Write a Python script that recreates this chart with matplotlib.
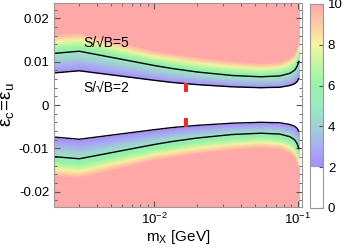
import numpy as np
import matplotlib
matplotlib.use("Agg")
import matplotlib.pyplot as plt
from matplotlib.colors import LinearSegmentedColormap
from matplotlib.ticker import LogLocator, MultipleLocator, NullFormatter

plt.rcParams['font.family'] = ['Liberation Sans', 'DejaVu Sans']

# |epsilon| at which S/sqrt(B) reaches 2, 5 and ~10
mass = [0.002, 0.003, 0.01, 0.0134, 0.02, 0.035, 0.055, 0.075, 0.088, 0.095, 0.099, 0.102]
eps_s2 = [0.0074, 0.0079, 0.0057, 0.0052, 0.0047, 0.0042, 0.0040, 0.0041, 0.0045, 0.0049, 0.0054, 0.0062]
eps_s5 = [0.0119, 0.0124, 0.0091, 0.0084, 0.0076, 0.0068, 0.0065, 0.0067, 0.0073, 0.0080, 0.0089, 0.0102]
eps_s10 = [0.0165, 0.0170, 0.0128, 0.0122, 0.0113, 0.0104, 0.0099, 0.0102, 0.0112, 0.0122, 0.0135, 0.0152]
sig_levels = [0, 2, 5, 10]

x17_mass = 0.0167
x17_eps_lo = 0.003
x17_eps_hi = 0.005

cbar_ticks = [0, 2, 4, 6, 8, 10]

# colormap
nodes = [
    (0.0, (1, 1, 1)),
    (0.2, (1, 1, 1)),
    (0.201, (0.66, 0.55, 1.0)),
    (0.3, (0.66, 0.68, 0.96)),
    (0.4, (0.63, 0.82, 0.84)),
    (0.5, (0.60, 0.92, 0.76)),
    (0.6, (0.58, 0.96, 0.66)),
    (0.7, (0.74, 0.97, 0.63)),
    (0.8, (0.96, 0.96, 0.62)),
    (0.9, (1.0, 0.80, 0.64)),
    (1.0, (1.0, 0.66, 0.66)),
]
cmap = LinearSegmentedColormap.from_list("sig", nodes)

# build field
lm = np.log10(mass)
mg = np.logspace(np.log10(mass[0]), np.log10(mass[-1]), 600)
eg = np.linspace(-0.0235, 0.0235, 600)
e2 = np.interp(np.log10(mg), lm, eps_s2)
e5 = np.interp(np.log10(mg), lm, eps_s5)
e10 = np.interp(np.log10(mg), lm, eps_s10)
Z = np.empty((eg.size, mg.size))
for j in range(mg.size):
    Z[:, j] = np.interp(np.abs(eg), [0, e2[j], e5[j], e10[j]], sig_levels, right=10)

fig = plt.figure(figsize=(3.44, 2.49), dpi=100)
ax = fig.add_axes([54/344, 1-207/249, 248/344, 204/249])
cax = fig.add_axes([310/344, 1-208/249, 13/344, 204/249])

M, E = np.meshgrid(mg, eg)
pm = ax.pcolormesh(M, E, Z, cmap=cmap, vmin=0, vmax=10, shading='gouraud', rasterized=True)
ax.contour(M, E, Z, levels=[2, 5], colors='black', linewidths=1.0)

bw = x17_mass * (10**0.013 - 10**-0.013)
ax.bar([x17_mass, x17_mass], [x17_eps_hi - x17_eps_lo]*2, bottom=[x17_eps_lo, -x17_eps_hi],
       width=bw, color='#ee2a2a', zorder=3)

ax.text(0.0032, 0.0143, 'S/√B=5', fontsize=10, va='center')
ax.text(0.0032, 0.0040, 'S/√B=2', fontsize=10, va='center')

ax.set_xscale('log')
ax.set_xlim(0.002, 0.107)
ax.set_ylim(-0.0235, 0.0235)
ax.xaxis.set_major_locator(LogLocator(base=10, numticks=10))
ax.xaxis.set_minor_locator(LogLocator(base=10, subs=np.arange(2, 10), numticks=10))
ax.xaxis.set_minor_formatter(NullFormatter())
ax.yaxis.set_major_locator(MultipleLocator(0.01))
ax.yaxis.set_minor_locator(MultipleLocator(0.002))
ax.set_yticks([-0.02, -0.01, 0, 0.01, 0.02])
ax.set_yticklabels(['-0.02', '-0.01', '0', '0.01', '0.02'])
ax.tick_params(which='both', direction='in', top=True, right=True, color='#555555', labelsize=9.5)
ax.tick_params(which='major', length=4)
ax.tick_params(which='minor', length=2)
for s in ax.spines.values():
    s.set_color('#999999')
ax.set_xlabel(r'$\mathregular{m_X}$ [GeV]', fontsize=11, labelpad=1)
ax.set_ylabel(r'$\mathregular{ε_c\!=\!ε_u}$', fontsize=13.5, labelpad=2)

cb = fig.colorbar(pm, cax=cax, ticks=cbar_ticks)
cb.outline.set_edgecolor('#999999')
cb.ax.tick_params(direction='in', labelsize=9.5, color='#555555', length=3)

fig.savefig('out.png', dpi=100)
